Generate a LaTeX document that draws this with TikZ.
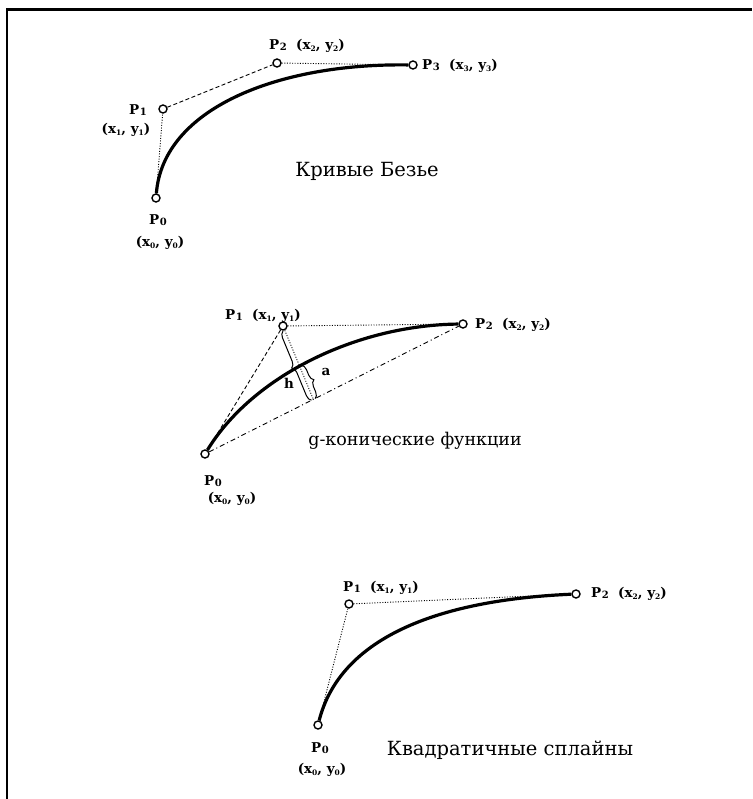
\documentclass[tikz,border=0pt]{standalone}
\usepackage{fontspec}
\setmainfont{DejaVu Serif}
\usetikzlibrary{calc,intersections,decorations.pathreplacing}
\newcommand{\pind}[1]{\kern0.5pt\raisebox{-1pt}{\fontsize{10}{10}\selectfont#1}}
\newcommand{\kind}[1]{\raisebox{-1.5pt}{\fontsize{7.5}{7.5}\selectfont#1}}

\begin{document}
\begin{tikzpicture}[x=1pt,y=-1pt,
    pt/.style={circle,draw,line width=1.4pt,inner sep=0pt,minimum size=8pt,fill=white},
    krivaya/.style={line width=3.2pt},
    tochki/.style={line width=0.9pt,dash pattern=on 1pt off 1.6pt},
    shtrih/.style={line width=0.9pt,dash pattern=on 4pt off 2.5pt},
    shtrihpunkt/.style={line width=0.9pt,dash pattern=on 5pt off 3pt on 1pt off 3pt},
    skobka/.style={line width=1pt,decorate,decoration={brace,amplitude=6pt,raise=2pt}},
    metka/.style={font=\bfseries\fontsize{13.5}{13.5}\selectfont,inner sep=1pt},
    podpis/.style={font=\fontsize{19.5}{19.5}\selectfont,inner sep=0pt}]
\useasboundingbox (0,0) rectangle (752,799);
\draw[line width=2.3pt] (7,799) -- (7,9.5) -- (752,9.5);

% Кривые Безье
\foreach \n/\x/\y in {b0/156/198, b1/163/109, b2/277/63, b3/413/65}
  \node[pt] (\n) at (\x,\y) {};
\draw[tochki] (b0) -- (b1);
\draw[shtrih] (b1) -- (b2);
\draw[tochki] (b2) -- (b3);
\draw[krivaya] (b0) .. controls (b1.center) and (b2.center) .. (b3);
\node[metka] (b0p) at (158,220) {P\pind{0}};
\node[metka] (b0k) at (160,243) {(x\kind{0}, y\kind{0})};
\node[metka] (b1p) at (138,110) {P\pind{1}};
\node[metka] (b1k) at (126,130) {(x\kind{1}, y\kind{1})};
\node[metka,anchor=west] (b2p) at (268,46) {P\pind{2}\ \ (x\kind{2}, y\kind{2})};
\node[metka,anchor=west] (b3p) at (421,66) {P\pind{3}\ \ (x\kind{3}, y\kind{3})};
\node[podpis] (bezye) at (367,171) {Кривые Безье};

% g-конические функции
\foreach \n/\x/\y in {g0/205/454, g1/283/326, g2/463/324}
  \node[pt] (\n) at (\x,\y) {};
\coordinate (q) at ($(g0.center)!0.42!(g2.center)$);
\draw[shtrih] (g0) -- (g1);
\draw[tochki] (g1) -- (g2);
\draw[shtrihpunkt] (g0) -- (g2);
\draw[tochki,name path=hlin] (g1) -- (q);
\draw[krivaya,name path=gkr] (g0) .. controls ($(g0.center)!0.6!(g1.center)$)
  and ($(g2.center)!0.6!(g1.center)$) .. (g2);
\path[name intersections={of=gkr and hlin,by=hc}];
\draw[skobka] (q) -- (g1);
\draw[skobka] (hc) -- (q);
\node[metka] (h) at (289,383) {h};
\node[metka] (a) at (326,372) {a};
\node[metka] (g0p) at (213,481) {P\pind{0}};
\node[metka] (g0k) at (232,499) {(x\kind{0}, y\kind{0})};
\node[metka,anchor=west] (g1p) at (224,316) {P\pind{1}\ \ (x\kind{1}, y\kind{1})};
\node[metka,anchor=west] (g2p) at (474,325) {P\pind{2}\ \ (x\kind{2}, y\kind{2})};
\node[podpis,font=\fontsize{17.5}{17.5}\selectfont] (gkon) at (415,441) {g-конические функции};

% Квадратичные сплайны
\foreach \n/\x/\y in {k0/318/725, k1/349/604, k2/576/594}
  \node[pt] (\n) at (\x,\y) {};
\draw[tochki] (k0) -- (k1);
\draw[tochki] (k1) -- (k2);
\draw[krivaya] (k0) .. controls ($(k0.center)!0.667!(k1.center)$)
  and ($(k2.center)!0.667!(k1.center)$) .. (k2);
\node[metka] (k0p) at (320,748) {P\pind{0}};
\node[metka] (k0k) at (322,770) {(x\kind{0}, y\kind{0})};
\node[metka,anchor=west] (k1p) at (342,588) {P\pind{1}\ \ (x\kind{1}, y\kind{1})};
\node[metka,anchor=west] (k2p) at (590,594) {P\pind{2}\ \ (x\kind{2}, y\kind{2})};
\node[podpis] (kvadr) at (510,750) {Квадратичные сплайны};
\end{tikzpicture}
\end{document}
